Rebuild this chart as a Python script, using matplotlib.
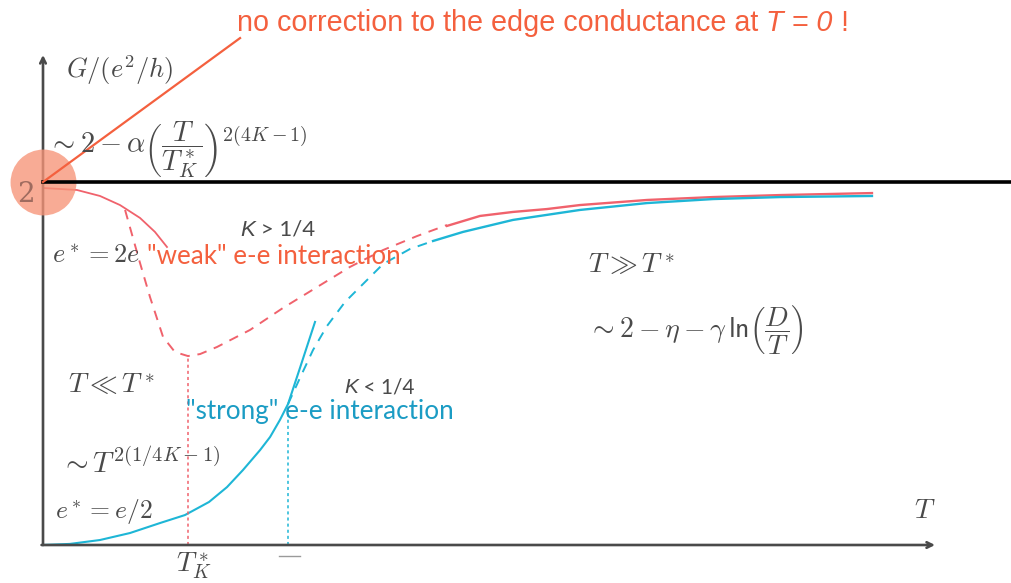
import numpy as np
import matplotlib.pyplot as plt

plt.rcParams['mathtext.fontset'] = 'cm'

# conductance G (units e^2/h) against temperature T (units T_K^*)
# K > 1/4 branch: weak interaction, dips to a minimum at T_K^*
weak_low_T = [0.0, 0.234, 0.393, 0.531, 0.669, 0.772, 0.855]
weak_low_G = [1.967, 1.956, 1.923, 1.873, 1.802, 1.725, 1.642]
weak_mid_T = [0.566, 0.669, 0.738, 0.828, 0.910, 1.0, 1.083, 1.2, 1.428,
              1.655, 1.890, 2.117, 2.345, 2.579, 2.786]
weak_mid_G = [1.846, 1.554, 1.366, 1.146, 1.063, 1.041, 1.052, 1.091, 1.185,
              1.306, 1.421, 1.532, 1.625, 1.702, 1.763]
weak_high_T = [2.786, 3.014, 3.241, 3.476, 3.703, 4.166, 4.621, 5.083, 5.717]
weak_high_G = [1.758, 1.813, 1.835, 1.851, 1.873, 1.901, 1.917, 1.928, 1.939]

# K < 1/4 branch: strong interaction, G -> 0 as T -> 0
strong_low_T = [0.0, 0.186, 0.393, 0.6, 0.807, 0.979, 1.145, 1.269, 1.379,
                1.497, 1.566, 1.634, 1.690, 1.772, 1.876]
strong_low_G = [0.0, 0.006, 0.0275, 0.066, 0.121, 0.165, 0.237, 0.319, 0.413,
                0.523, 0.595, 0.689, 0.777, 0.975, 1.229]
strong_mid_T = [1.690, 1.772, 1.862, 1.959, 2.083, 2.221, 2.345, 2.531, 2.690]
strong_mid_G = [0.777, 0.920, 1.074, 1.207, 1.339, 1.449, 1.548, 1.631, 1.675]
strong_high_T = [2.690, 2.897, 3.241, 3.703, 4.166, 4.621, 5.083, 5.717]
strong_high_G = [1.675, 1.725, 1.791, 1.846, 1.884, 1.906, 1.917, 1.923]

G_quantized = 2.0
T_weak_min = 1.0      # T_K^*
T_strong_cross = 1.690

red = '#f0626c'
blue = '#1eb6d6'
red_txt = '#f4603e'
blue_txt = '#1b9cc4'
gray = '#4a4a4a'

W, H = 1012, 583
fig = plt.figure(figsize=(W / 100, H / 100), dpi=100)
ax = fig.add_axes([0, 0, 1, 1])
ax.set_xlim(-43 / 145, (W - 43) / 145)
ax.set_ylim((545 - H) / 181.5, 545 / 181.5)
ax.axis('off')
renderer = fig.canvas.get_renderer()


def fig_text(x, y, s, **kw):
    # place text by pixel position from the top-left corner
    return fig.text(x / W, 1 - y / H, s, **kw)


def run_text(x, y, pieces, **common):
    # draw pieces one after another on a shared baseline
    for s, kw in pieces:
        opts = dict(common)
        opts.update(kw)
        t = fig_text(x, y, s, va='baseline', ha='left', **opts)
        x += t.get_window_extent(renderer).width


# axes arrows
ax.annotate('', xy=(0, 2.70), xytext=(0, 0),
            arrowprops=dict(arrowstyle='->', color=gray, lw=1.9,
                            shrinkA=0, shrinkB=0))
ax.annotate('', xy=(6.152, 0), xytext=(-0.01, 0),
            arrowprops=dict(arrowstyle='->', color=gray, lw=1.9,
                            shrinkA=0, shrinkB=0))

# quantized value G = 2
ax.axhline(G_quantized, xmin=0.0425, color='black', lw=2.6, zorder=4)

# curves
ax.plot(weak_low_T, weak_low_G, color=red, lw=1.3)
ax.plot(weak_mid_T, weak_mid_G, color=red, lw=1.4, ls=(0, (5, 4)))
ax.plot(weak_high_T, weak_high_G, color=red, lw=1.7)
ax.plot(strong_low_T, strong_low_G, color=blue, lw=1.5)
ax.plot(strong_mid_T, strong_mid_G, color=blue, lw=1.4, ls=(0, (5, 4)))
ax.plot(strong_high_T, strong_high_G, color=blue, lw=1.7)

# guide lines down to the T axis
ax.plot([T_weak_min, T_weak_min], [0, min(weak_mid_G)], color=red, lw=1.1,
        ls=(0, (2, 2)))
ax.plot([T_strong_cross, T_strong_cross], [0, strong_low_G[12]], color=blue,
        lw=1.1, ls=(0, (2, 2)))

# highlight at T = 0 and the pointer to the remark
ax.scatter([0], [G_quantized], s=2250, color='#f79478', alpha=0.78,
           lw=0, zorder=3)
ax.plot([0, 1.359], [G_quantized, 2.793], color='#f4603e', lw=1.6, zorder=5)

run_text(237, 31, [('no correction to the edge conductance at ', {}),
                   ('T = 0', dict(style='italic')),
                   (' !', {})],
         color=red_txt, fontsize=20.7, family='Liberation Sans')

math = dict(color=gray, va='center', ha='left')
fig_text(17, 194, '2', color='#7a5048', fontsize=20, family='DejaVu Serif',
         va='center', ha='left', alpha=0.7, zorder=6)
fig_text(66, 70, r'$G/(e^2/h)$', fontsize=19, **math)
fig_text(48, 150, r'$\sim 2-\alpha\left(\dfrac{T}{T_K^*}\right)^{2(4K-1)}$',
         fontsize=20.5, **math)
fig_text(52, 256, r'$e^*=2e$', fontsize=19, **math)
run_text(240, 236, [('K', dict(style='italic', family='Liberation Sans')),
                    (' > 1/4', {})],
         color=gray, fontsize=16, family='Lato')
fig_text(147, 257, '"weak" e-e interaction', color=red_txt, fontsize=18.7,
         family='Lato', va='center', ha='left')
fig_text(588, 265, r'$T\gg T^*$', fontsize=20, **math)
fig_text(588, 330, r'$\sim \mathsf{2}-\eta-\gamma\,\mathsf{ln}\left(\dfrac{D}{T}\right)$',
         fontsize=20, **math)
fig_text(68, 385, r'$T\ll T^*$', fontsize=20, **math)
run_text(344, 393, [('K', dict(style='italic', family='Liberation Sans')),
                    (' < 1/4', {})],
         color=gray, fontsize=15, family='Lato')
fig_text(186, 412, '"strong" e-e interaction', color=blue_txt, fontsize=18.8,
         family='Lato', va='center', ha='left')
fig_text(60, 463, r'$\sim T^{2(1/4K-1)}$', fontsize=21, **math)
fig_text(55, 512, r'$e^*=e/2$', fontsize=18.5, **math)
fig_text(914, 510, r'$T$', fontsize=20, **math)
fig_text(176, 566, r'$T_K^*$', fontsize=20, **math)
ax.plot([1.63, 1.77], [-0.06, -0.06], color='#9a9a9a', lw=1.0)

fig.savefig('out.png', dpi=100)
